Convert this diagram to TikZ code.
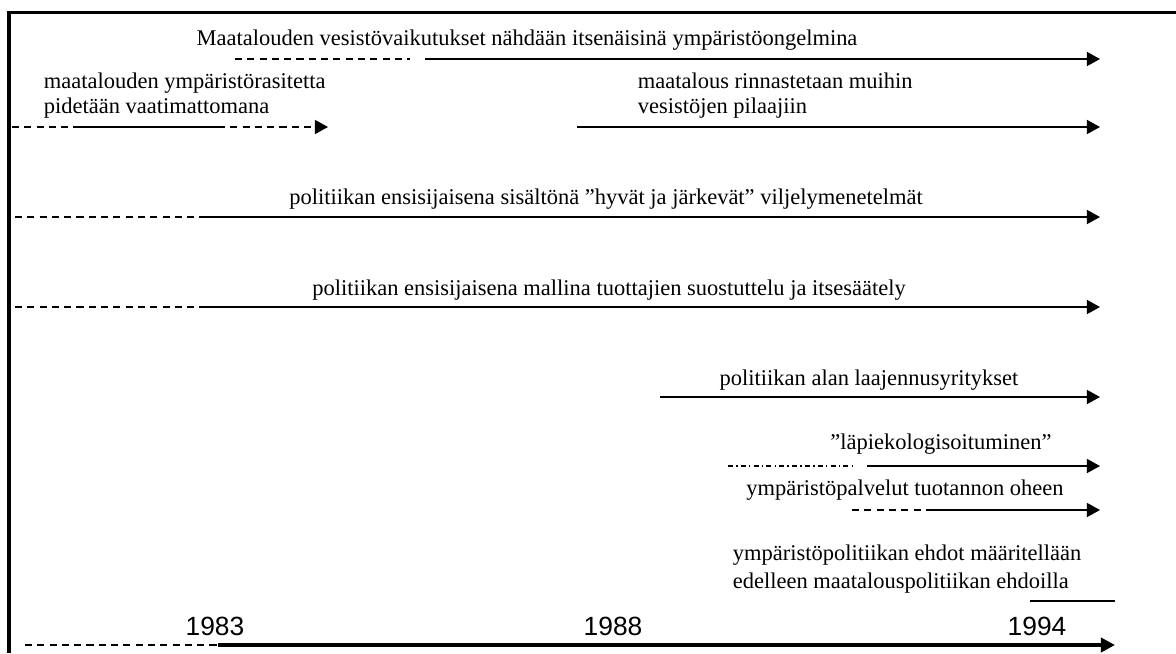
\documentclass[tikz,border=0pt]{standalone}
\usepackage{fontspec}
\setmainfont{Liberation Serif}
\setsansfont{Liberation Sans}
\usetikzlibrary{arrows.meta}

\tikzset{
  lbl/.style={font=\fontsize{12.8}{14.2}\selectfont, inner sep=0pt, anchor=base},
  yr/.style={font=\sffamily\fontsize{15}{18}\selectfont, inner sep=0pt, anchor=base},
  dsh/.style={dash pattern=on 4pt off 3pt},
  dshdot/.style={dash pattern=on 2.8pt off 1.8pt on 0.9pt off 1.8pt},
  arr/.style={-{Triangle[length=7.5pt,width=8pt]}},
}

\begin{document}
\begin{tikzpicture}[x=0.02cm,y=-0.02cm,line width=1pt]
\useasboundingbox (0,0) rectangle (1176,653);

% frame
\draw[line width=1.9pt] (9,653) -- (9,12.5) -- (1176,12.5);

% row 1
\node[lbl] (vesisto) at (527,45) {Maatalouden vesistövaikutukset nähdään itsenäisinä ympäristöongelmina};
\draw[dsh] (235,59) -- (410,59);
\draw[arr] (425,59) -- (1100,59);

% row 2
\node[lbl, anchor=base west, align=left] (rasite) at (43,113) {maatalouden ympäristörasitetta\\pidetään vaatimattomana};
\draw[dsh] (12,127) -- (78,127);
\draw (78,127) -- (218,127);
\draw[dsh, arr] (218,127) -- (328,127);

\node[lbl, anchor=base west, align=left] (rinnast) at (637,113) {maatalous rinnastetaan muihin\\vesistöjen pilaajiin};
\draw[arr] (577,127) -- (1100,127);

% rows 3 and 4
\node[lbl] (sisalto) at (606,204) {politiikan ensisijaisena sisältönä ”hyvät ja järkevät” viljelymenetelmät};
\node[lbl] (malli) at (609,295) {politiikan ensisijaisena mallina tuottajien suostuttelu ja itsesäätely};
\foreach \y in {217,307}
 {
   \draw[dsh] (15,\y) -- (200,\y);
   \draw[arr] (200,\y) -- (1100,\y);
 }

% row 5
\node[lbl] (laajen) at (869,385) {politiikan alan laajennusyritykset};
\draw[arr] (660,397) -- (1100,397);

% row 6
\node[lbl] (lapieko) at (941,449) {”läpiekologisoituminen”};
\draw[dshdot] (728,466) -- (853,466);
\draw[arr] (867,466) -- (1100,466);

% row 7
\node[lbl] (palvelut) at (905,495) {ympäristöpalvelut tuotannon oheen};
\draw[dsh] (852,510) -- (927,510);
\draw[arr] (927,510) -- (1100,510);

% row 8
\node[lbl, anchor=base west, align=left, font=\fontsize{12.8}{15.5}\selectfont] (ehdot) at (732,588) {ympäristöpolitiikan ehdot määritellään\\edelleen maatalouspolitiikan ehdoilla};
\draw[line width=0.6pt] (1030,601) -- (1115,601);

% time axis
\foreach \v/\x in {1983/215, 1988/613, 1994/1037}
  \node[yr] (y\v) at (\x,635) {\v};
\draw[dsh] (25,645) -- (218,645);
\draw[line width=2.3pt, -{Triangle[length=8pt,width=8pt]}] (218,645) -- (1115,645);

\end{tikzpicture}
\end{document}
